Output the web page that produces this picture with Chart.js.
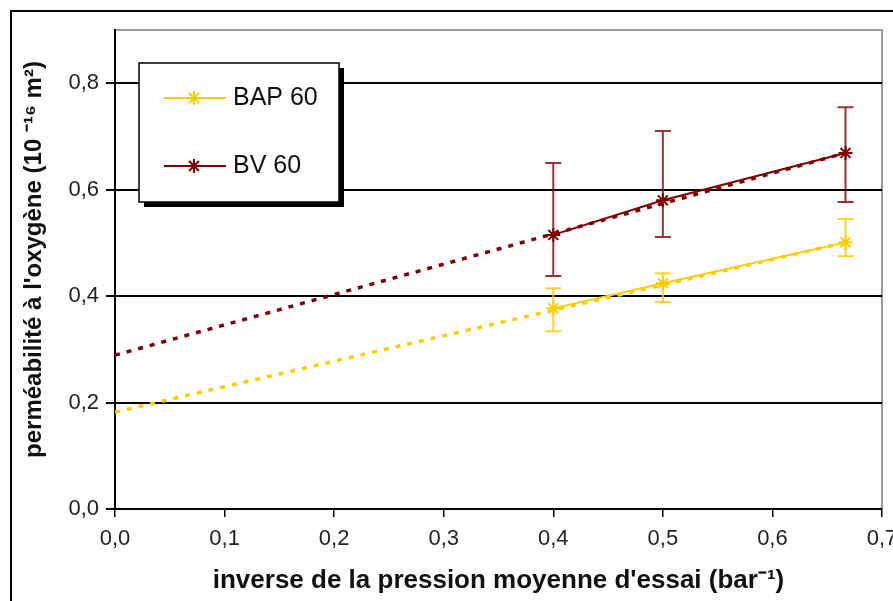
<!DOCTYPE html>
<html><head><meta charset="utf-8">
<style>html,body{margin:0;padding:0;background:#fff}#wrap{width:893px;height:601px;position:relative}canvas{display:block}</style>
<script src="https://cdn.jsdelivr.net/npm/chart.js@4/dist/chart.umd.min.js"></script>
</head><body><div id="wrap"><canvas id="c" width="893" height="601"></canvas></div>
<script>
// ---- data ----
const xValues = [0.4, 0.5, 0.6667];
const seriesNames = ['BAP 60', 'BV 60'];
const bapValues = [0.377, 0.424, 0.501];
const bapUpper = [0.415, 0.443, 0.545];
const bapLower = [0.334, 0.389, 0.475];
const bvValues = [0.515, 0.580, 0.669];
const bvUpper = [0.650, 0.710, 0.755];
const bvLower = [0.438, 0.511, 0.577];
const trendX = [0, 0.6667];
const bapTrend = [0.182, 0.501];
const bvTrend = [0.289, 0.669];
const xTicks = [0, 0.1, 0.2, 0.3, 0.4, 0.5, 0.6, 0.7];
const yTicks = [0, 0.2, 0.4, 0.6, 0.8];
const xTitle = "inverse de la pression moyenne d'essai (bar\u207B\u00B9)";
const yTitle = "   perméabilité à l'oxygène (10 \u207B\u00B9\u2076 m\u00B2)";

const GOLD = '#FFCC00';
const MAROON = '#800000';
const FONT = '"Liberation Sans", Arial, sans-serif';
const fmt = v => Number(v).toFixed(1).replace('.', ',');
const pts = (xs, ys) => xs.map((x, i) => ({x: x, y: ys[i]}));

const errorBars = [
  {color: 'rgba(255,204,0,0.85)', vals: bapValues, up: bapUpper, lo: bapLower},
  {color: 'rgba(128,0,0,0.8)', vals: bvValues, up: bvUpper, lo: bvLower}
];

const framePlugin = {
  id: 'frame',
  beforeDraw(chart) {
    const ctx = chart.ctx;
    ctx.save();
    ctx.fillStyle = '#fff';
    ctx.fillRect(0, 0, chart.width, chart.height);
    ctx.strokeStyle = '#000';
    ctx.lineWidth = 2;
    ctx.strokeRect(11, 11, chart.width + 20, chart.height + 20);
    const a = chart.chartArea;
    ctx.strokeStyle = '#999';
    ctx.lineWidth = 2;
    ctx.beginPath();
    ctx.moveTo(a.left, a.top);
    ctx.lineTo(a.right, a.top);
    ctx.lineTo(a.right, a.bottom);
    ctx.stroke();
    ctx.restore();
  },
  afterDatasetsDraw(chart) {
    const ctx = chart.ctx;
    const xs = chart.scales.x, ys = chart.scales.y;
    ctx.save();
    ctx.lineWidth = 2;
    errorBars.forEach(eb => {
      ctx.strokeStyle = eb.color;
      xValues.forEach((xv, i) => {
        const px = xs.getPixelForValue(xv);
        const pu = ys.getPixelForValue(eb.up[i]);
        const pl = ys.getPixelForValue(eb.lo[i]);
        ctx.beginPath();
        ctx.moveTo(px, pu); ctx.lineTo(px, pl);
        ctx.moveTo(px - 8, pu); ctx.lineTo(px + 8, pu);
        ctx.moveTo(px - 8, pl); ctx.lineTo(px + 8, pl);
        ctx.stroke();
      });
    });
    ctx.restore();
  },
  afterDraw(chart) {
    const ctx = chart.ctx;
    ctx.save();
    const bx = 139, by = 63, bw = 200, bh = 139;
    ctx.fillStyle = '#000';
    ctx.fillRect(bx + 5, by + 5, bw, bh);
    ctx.fillStyle = '#fff';
    ctx.fillRect(bx, by, bw, bh);
    ctx.strokeStyle = '#000';
    ctx.lineWidth = 1.5;
    ctx.strokeRect(bx, by, bw, bh);
    const entries = [
      {name: seriesNames[0], color: GOLD, y: 98},
      {name: seriesNames[1], color: MAROON, y: 166}
    ];
    entries.forEach(e => {
      ctx.strokeStyle = e.color;
      ctx.lineWidth = 2;
      ctx.beginPath();
      ctx.moveTo(164, e.y); ctx.lineTo(226, e.y);
      ctx.stroke();
      Chart.helpers.drawPoint(ctx, {pointStyle: 'star', radius: 7, borderWidth: 2, rotation: 0}, 194, e.y);
      ctx.fillStyle = '#111';
      ctx.font = '25px ' + FONT;
      ctx.textBaseline = 'middle';
      ctx.textAlign = 'left';
      ctx.fillText(e.name, 233, e.y);
    });
    ctx.restore();
  }
};

new Chart(document.getElementById('c'), {
  type: 'scatter',
  data: {
    datasets: [
      {label: seriesNames[0] + ' tendance', data: pts(trendX, bapTrend), showLine: true, borderColor: GOLD, borderWidth: 3.5, borderDash: [5, 7], pointRadius: 0, borderCapStyle: 'butt'},
      {label: seriesNames[1] + ' tendance', data: pts(trendX, bvTrend), showLine: true, borderColor: MAROON, borderWidth: 3.5, borderDash: [5, 7], pointRadius: 0, borderCapStyle: 'butt'},
      {label: seriesNames[0], data: pts(xValues, bapValues), showLine: true, borderColor: GOLD, backgroundColor: GOLD, borderWidth: 2, pointStyle: 'star', pointRadius: 7, pointBorderWidth: 2, pointBorderColor: GOLD},
      {label: seriesNames[1], data: pts(xValues, bvValues), showLine: true, borderColor: MAROON, backgroundColor: MAROON, borderWidth: 2, pointStyle: 'star', pointRadius: 7, pointBorderWidth: 2, pointBorderColor: MAROON}
    ]
  },
  options: {
    responsive: false,
    animation: false,
    devicePixelRatio: 1,
    layout: {padding: {top: 30, right: 11, left: 0, bottom: 0}},
    plugins: {legend: {display: false}, tooltip: {enabled: false}},
    scales: {
      x: {
        type: 'linear', min: 0, max: 0.7,
        afterBuildTicks: s => { s.ticks = xTicks.map(v => ({value: v})); },
        afterFit: s => { s.height = 92; s.paddingLeft = 0; s.paddingRight = 0; },
        ticks: {callback: v => fmt(v), font: {family: FONT, size: 22}, color: '#222', padding: 9, maxRotation: 0, autoSkip: false},
        grid: {drawOnChartArea: false, color: '#000', tickLength: 8, lineWidth: 1.5},
        border: {color: '#000', width: 2},
        title: {display: true, text: xTitle, color: '#111', font: {family: FONT, size: 26, weight: 'bold'}, padding: {top: 0, bottom: 5}}
      },
      y: {
        type: 'linear', min: 0, max: 0.9,
        afterBuildTicks: s => { s.ticks = yTicks.map(v => ({value: v})); },
        afterFit: s => { s.width = 115; s.paddingTop = 0; s.paddingBottom = 0; },
        ticks: {callback: v => fmt(v), font: {family: FONT, size: 22}, color: '#222', padding: 7},
        grid: {color: '#000', lineWidth: 2, tickLength: 9},
        border: {color: '#000', width: 2},
        title: {display: true, text: yTitle, color: '#111', font: {family: FONT, size: 24, weight: 'bold'}, padding: {top: 20, bottom: 0}}
      }
    }
  },
  plugins: [framePlugin]
});
</script>
</body></html>
